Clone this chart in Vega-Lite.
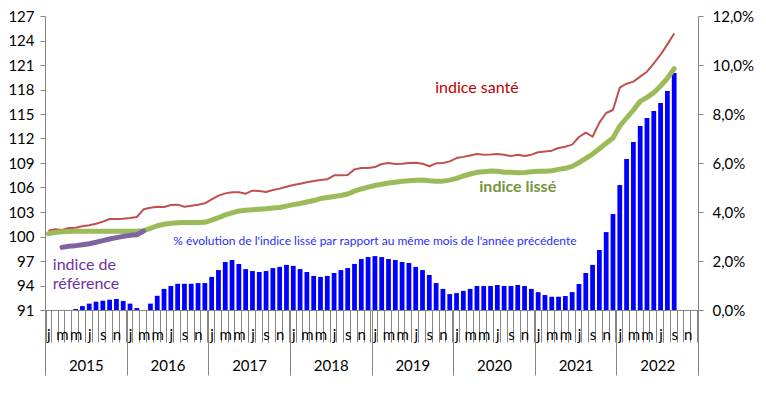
{
  "$schema": "https://vega.github.io/schema/vega-lite/v6.json",
  "width": 653,
  "height": 294,
  "autosize": {"type": "none"},
  "padding": {"left": 45, "top": 16, "right": 68, "bottom": 84},
  "background": "white",
  "config": {
    "font": "Lato",
    "view": {"stroke": null},
    "axis": {"labelFont": "Lato", "labelColor": "#000000", "domainColor": "#868686", "tickColor": "#868686", "grid": false, "labelFontSize": 15}
  },
  "datasets": {
    "main": [
      {"i":0,"pct":null,"sante":100.71,"lisse":100.35,"ref":null},
      {"i":1,"pct":null,"sante":100.88,"lisse":100.5,"ref":null},
      {"i":2,"pct":null,"sante":100.80,"lisse":100.58,"ref":98.67},
      {"i":3,"pct":null,"sante":101.04,"lisse":100.62,"ref":98.8},
      {"i":4,"pct":0.0004,"sante":101.08,"lisse":100.65,"ref":98.88},
      {"i":5,"pct":0.0016,"sante":101.25,"lisse":100.65,"ref":99.0},
      {"i":6,"pct":0.0026,"sante":101.37,"lisse":100.65,"ref":99.12},
      {"i":7,"pct":0.0034,"sante":101.57,"lisse":100.65,"ref":99.29},
      {"i":8,"pct":0.0038,"sante":101.82,"lisse":100.65,"ref":99.49},
      {"i":9,"pct":0.0042,"sante":102.14,"lisse":100.65,"ref":99.69},
      {"i":10,"pct":0.0045,"sante":102.14,"lisse":100.65,"ref":99.86},
      {"i":11,"pct":0.0037,"sante":102.18,"lisse":100.65,"ref":100.02},
      {"i":12,"pct":0.0026,"sante":102.27,"lisse":100.65,"ref":100.14},
      {"i":13,"pct":0.0008,"sante":102.39,"lisse":100.65,"ref":100.22},
      {"i":14,"pct":null,"sante":103.33,"lisse":100.72,"ref":100.67},
      {"i":15,"pct":0.0026,"sante":103.53,"lisse":101.0,"ref":null},
      {"i":16,"pct":0.0058,"sante":103.65,"lisse":101.32,"ref":null},
      {"i":17,"pct":0.0086,"sante":103.61,"lisse":101.5,"ref":null},
      {"i":18,"pct":0.0098,"sante":103.86,"lisse":101.62,"ref":null},
      {"i":19,"pct":0.0107,"sante":103.90,"lisse":101.68,"ref":null},
      {"i":20,"pct":0.0107,"sante":103.65,"lisse":101.7,"ref":null},
      {"i":21,"pct":0.0107,"sante":103.77,"lisse":101.7,"ref":null},
      {"i":22,"pct":0.0110,"sante":103.90,"lisse":101.7,"ref":null},
      {"i":23,"pct":0.0110,"sante":104.06,"lisse":101.74,"ref":null},
      {"i":24,"pct":0.0135,"sante":104.55,"lisse":102.0,"ref":null},
      {"i":25,"pct":0.0163,"sante":105.0,"lisse":102.3,"ref":null},
      {"i":26,"pct":0.0196,"sante":105.28,"lisse":102.65,"ref":null},
      {"i":27,"pct":0.0204,"sante":105.41,"lisse":102.9,"ref":null},
      {"i":28,"pct":0.0188,"sante":105.41,"lisse":103.12,"ref":null},
      {"i":29,"pct":0.0167,"sante":105.24,"lisse":103.22,"ref":null},
      {"i":30,"pct":0.0159,"sante":105.61,"lisse":103.28,"ref":null},
      {"i":31,"pct":0.0155,"sante":105.57,"lisse":103.35,"ref":null},
      {"i":32,"pct":0.0159,"sante":105.45,"lisse":103.4,"ref":null},
      {"i":33,"pct":0.0171,"sante":105.69,"lisse":103.48,"ref":null},
      {"i":34,"pct":0.0176,"sante":105.86,"lisse":103.55,"ref":null},
      {"i":35,"pct":0.0184,"sante":106.10,"lisse":103.72,"ref":null},
      {"i":36,"pct":0.0180,"sante":106.31,"lisse":103.9,"ref":null},
      {"i":37,"pct":0.0167,"sante":106.47,"lisse":104.05,"ref":null},
      {"i":38,"pct":0.0155,"sante":106.63,"lisse":104.22,"ref":null},
      {"i":39,"pct":0.0139,"sante":106.80,"lisse":104.4,"ref":null},
      {"i":40,"pct":0.0135,"sante":106.92,"lisse":104.65,"ref":null},
      {"i":41,"pct":0.0139,"sante":107.0,"lisse":104.78,"ref":null},
      {"i":42,"pct":0.0151,"sante":107.49,"lisse":104.9,"ref":null},
      {"i":43,"pct":0.0163,"sante":107.49,"lisse":105.02,"ref":null},
      {"i":44,"pct":0.0171,"sante":107.53,"lisse":105.2,"ref":null},
      {"i":45,"pct":0.0188,"sante":108.22,"lisse":105.55,"ref":null},
      {"i":46,"pct":0.0208,"sante":108.39,"lisse":105.82,"ref":null},
      {"i":47,"pct":0.0216,"sante":108.39,"lisse":106.05,"ref":null},
      {"i":48,"pct":0.0220,"sante":108.5,"lisse":106.25,"ref":null},
      {"i":49,"pct":0.0216,"sante":108.88,"lisse":106.4,"ref":null},
      {"i":50,"pct":0.0208,"sante":109.0,"lisse":106.55,"ref":null},
      {"i":51,"pct":0.0204,"sante":108.88,"lisse":106.65,"ref":null},
      {"i":52,"pct":0.0196,"sante":108.92,"lisse":106.76,"ref":null},
      {"i":53,"pct":0.0192,"sante":109.0,"lisse":106.84,"ref":null},
      {"i":54,"pct":0.0176,"sante":109.04,"lisse":106.88,"ref":null},
      {"i":55,"pct":0.0163,"sante":108.92,"lisse":106.92,"ref":null},
      {"i":56,"pct":0.0143,"sante":108.6,"lisse":106.82,"ref":null},
      {"i":57,"pct":0.0110,"sante":108.96,"lisse":106.78,"ref":null},
      {"i":58,"pct":0.0086,"sante":109.0,"lisse":106.78,"ref":null},
      {"i":59,"pct":0.0065,"sante":109.2,"lisse":106.9,"ref":null},
      {"i":60,"pct":0.0069,"sante":109.6,"lisse":107.12,"ref":null},
      {"i":61,"pct":0.0078,"sante":109.75,"lisse":107.41,"ref":null},
      {"i":62,"pct":0.0086,"sante":109.92,"lisse":107.65,"ref":null},
      {"i":63,"pct":0.0098,"sante":110.1,"lisse":107.86,"ref":null},
      {"i":64,"pct":0.0098,"sante":110.0,"lisse":107.94,"ref":null},
      {"i":65,"pct":0.0098,"sante":110.04,"lisse":108.02,"ref":null},
      {"i":66,"pct":0.0102,"sante":110.1,"lisse":107.98,"ref":null},
      {"i":67,"pct":0.0098,"sante":110.0,"lisse":107.88,"ref":null},
      {"i":68,"pct":0.0098,"sante":109.84,"lisse":107.86,"ref":null},
      {"i":69,"pct":0.0102,"sante":110.02,"lisse":107.82,"ref":null},
      {"i":70,"pct":0.0098,"sante":109.86,"lisse":107.84,"ref":null},
      {"i":71,"pct":0.0086,"sante":110.02,"lisse":107.94,"ref":null},
      {"i":72,"pct":0.0073,"sante":110.31,"lisse":108.0,"ref":null},
      {"i":73,"pct":0.0061,"sante":110.41,"lisse":108.0,"ref":null},
      {"i":74,"pct":0.0054,"sante":110.51,"lisse":108.05,"ref":null},
      {"i":75,"pct":0.0054,"sante":110.84,"lisse":108.22,"ref":null},
      {"i":76,"pct":0.0057,"sante":111.0,"lisse":108.35,"ref":null},
      {"i":77,"pct":0.0073,"sante":111.25,"lisse":108.59,"ref":null},
      {"i":78,"pct":0.0106,"sante":112.18,"lisse":109.04,"ref":null},
      {"i":79,"pct":0.0151,"sante":112.71,"lisse":109.57,"ref":null},
      {"i":80,"pct":0.0184,"sante":112.22,"lisse":110.1,"ref":null},
      {"i":81,"pct":0.0245,"sante":113.94,"lisse":110.75,"ref":null},
      {"i":82,"pct":0.0318,"sante":115.12,"lisse":111.41,"ref":null},
      {"i":83,"pct":0.0392,"sante":115.49,"lisse":112.06,"ref":null},
      {"i":84,"pct":0.0510,"sante":118.22,"lisse":113.53,"ref":null},
      {"i":85,"pct":0.0616,"sante":118.71,"lisse":114.51,"ref":null},
      {"i":86,"pct":0.0686,"sante":118.96,"lisse":115.49,"ref":null},
      {"i":87,"pct":0.0751,"sante":119.57,"lisse":116.55,"ref":null},
      {"i":88,"pct":0.0784,"sante":120.18,"lisse":117.04,"ref":null},
      {"i":89,"pct":0.0812,"sante":121.2,"lisse":117.61,"ref":null},
      {"i":90,"pct":0.0845,"sante":122.26,"lisse":118.43,"ref":null},
      {"i":91,"pct":0.0894,"sante":123.53,"lisse":119.37,"ref":null},
      {"i":92,"pct":0.0967,"sante":124.85,"lisse":120.55,"ref":null},
      {"i":93,"pct":null,"sante":null,"lisse":null,"ref":null},
      {"i":94,"pct":null,"sante":null,"lisse":null,"ref":null},
      {"i":95,"pct":null,"sante":null,"lisse":null,"ref":null}
    ],
    "years": [
      {"year":2015},{"year":2016},{"year":2017},{"year":2018},
      {"year":2019},{"year":2020},{"year":2021},{"year":2022}
    ]
  },
  "layer": [
    {
      "data": {"name": "main"},
      "layer": [
        {
          "mark": {"type": "bar", "color": "#0000FF"},
          "encoding": {
            "x": {
              "field": "i", "type": "ordinal",
              "scale": {"type": "band", "domain": [0,1,2,3,4,5,6,7,8,9,10,11,12,13,14,15,16,17,18,19,20,21,22,23,24,25,26,27,28,29,30,31,32,33,34,35,36,37,38,39,40,41,42,43,44,45,46,47,48,49,50,51,52,53,54,55,56,57,58,59,60,61,62,63,64,65,66,67,68,69,70,71,72,73,74,75,76,77,78,79,80,81,82,83,84,85,86,87,88,89,90,91,92,93,94,95], "paddingInner": 0.3, "paddingOuter": 0.15},
              "axis": {
                "title": null, "orient": "bottom", "tickBand": "extent", "tickSize": 32,
                "labelExpr": "datum.value % 2 == 0 ? ['j','f','m','a','m','j','j','a','s','o','n','d'][datum.value % 12] : ''",
                "labelOverlap": false, "labelAngle": 0, "labelBaseline": "alphabetic", "labelPadding": -3, "labelFontSize": 15
              }
            },
            "y": {
              "field": "pct", "type": "quantitative",
              "scale": {"domain": [0, 0.12], "nice": false, "zero": true},
              "axis": {
                "title": null, "orient": "right", "values": [0,0.02,0.04,0.06,0.08,0.1,0.12],
                "labelExpr": "replace(format(datum.value, '.1%'), '.', ',')",
                "labelOverlap": false, "tickSize": 5, "labelPadding": 9
              }
            }
          }
        },
        {
          "layer": [
            {
              "mark": {"type": "line", "color": "#C0504D", "strokeWidth": 2, "strokeJoin": "round"},
              "encoding": {
                "x": {"field": "i", "type": "ordinal", "scale": {"type": "band"}, "title": null},
                "y": {
                  "field": "sante", "type": "quantitative",
                  "scale": {"domain": [91, 127], "nice": false, "zero": false},
                  "axis": {"title": null, "orient": "left", "values": [91,94,97,100,103,106,109,112,115,118,121,124,127], "labelOverlap": false, "tickSize": 5, "labelPadding": 6}
                }
              }
            },
            {
              "mark": {"type": "line", "color": "#9BBB59", "strokeWidth": 5, "strokeJoin": "round", "strokeCap": "round"},
              "encoding": {
                "x": {"field": "i", "type": "ordinal", "scale": {"type": "band"}, "title": null},
                "y": {"field": "lisse", "type": "quantitative",
                  "axis": {"title": null, "orient": "left", "values": [91,94,97,100,103,106,109,112,115,118,121,124,127], "labelOverlap": false, "tickSize": 5, "labelPadding": 6}}
              }
            },
            {
              "mark": {"type": "line", "color": "#8064A2", "strokeWidth": 5, "strokeJoin": "round", "strokeCap": "round"},
              "encoding": {
                "x": {"field": "i", "type": "ordinal", "scale": {"type": "band"}, "title": null},
                "y": {"field": "ref", "type": "quantitative",
                  "axis": {"title": null, "orient": "left", "values": [91,94,97,100,103,106,109,112,115,118,121,124,127], "labelOverlap": false, "tickSize": 5, "labelPadding": 6}}
              }
            },
            {
              "data": {"values": [{"label": "indice santé"}]},
              "mark": {"type": "text", "color": "#C00000", "fontSize": 16, "align": "center", "baseline": "middle"},
              "encoding": {
                "x": {"datum": 63, "type": "ordinal"},
                "y": {"datum": 118.2, "type": "quantitative",
                  "axis": {"title": null, "orient": "left", "values": [91,94,97,100,103,106,109,112,115,118,121,124,127], "labelOverlap": false, "tickSize": 5, "labelPadding": 6}},
                "text": {"field": "label"}
              }
            },
            {
              "data": {"values": [{"label": "indice lissé"}]},
              "mark": {"type": "text", "color": "#77933C", "fontSize": 16, "fontWeight": "bold", "align": "center", "baseline": "middle"},
              "encoding": {
                "x": {"datum": 69, "type": "ordinal"},
                "y": {"datum": 106.06, "type": "quantitative",
                  "axis": {"title": null, "orient": "left", "values": [91,94,97,100,103,106,109,112,115,118,121,124,127], "labelOverlap": false, "tickSize": 5, "labelPadding": 6}},
                "text": {"field": "label"}
              }
            },
            {
              "data": {"values": [{"label": "% évolution de l'indice lissé par rapport  au même mois de l'année précédente"}]},
              "mark": {"type": "text", "color": "#2B2BFF", "fontSize": 12, "align": "center", "baseline": "middle"},
              "encoding": {
                "x": {"datum": 48, "type": "ordinal"},
                "y": {"datum": 99.45, "type": "quantitative",
                  "axis": {"title": null, "orient": "left", "values": [91,94,97,100,103,106,109,112,115,118,121,124,127], "labelOverlap": false, "tickSize": 5, "labelPadding": 6}},
                "text": {"field": "label"}
              }
            },
            {
              "data": {"values": [{"label": ["indice de", "référence"]}]},
              "mark": {"type": "text", "color": "#7030A0", "fontSize": 16, "align": "left", "baseline": "top", "lineHeight": 19},
              "encoding": {
                "x": {"datum": 1, "type": "ordinal", "bandPosition": 0},
                "y": {"datum": 97.55, "type": "quantitative",
                  "axis": {"title": null, "orient": "left", "values": [91,94,97,100,103,106,109,112,115,118,121,124,127], "labelOverlap": false, "tickSize": 5, "labelPadding": 6}},
                "text": {"field": "label"}
              }
            }
          ]
        }
      ],
      "resolve": {"scale": {"y": "independent"}}
    },
    {
      "data": {"name": "years"},
      "mark": {"type": "rule", "opacity": 0},
      "encoding": {
        "x": {
          "field": "year", "type": "ordinal",
          "scale": {"type": "band", "paddingInner": 0, "paddingOuter": 0},
          "axis": {
            "title": null, "orient": "bottom", "tickBand": "extent", "tickSize": 65, "domain": false,
            "labelAngle": 0, "labelBaseline": "alphabetic", "labelPadding": -5, "labelFontSize": 15
          }
        }
      }
    }
  ],
  "resolve": {"scale": {"x": "independent", "y": "independent"}}
}
